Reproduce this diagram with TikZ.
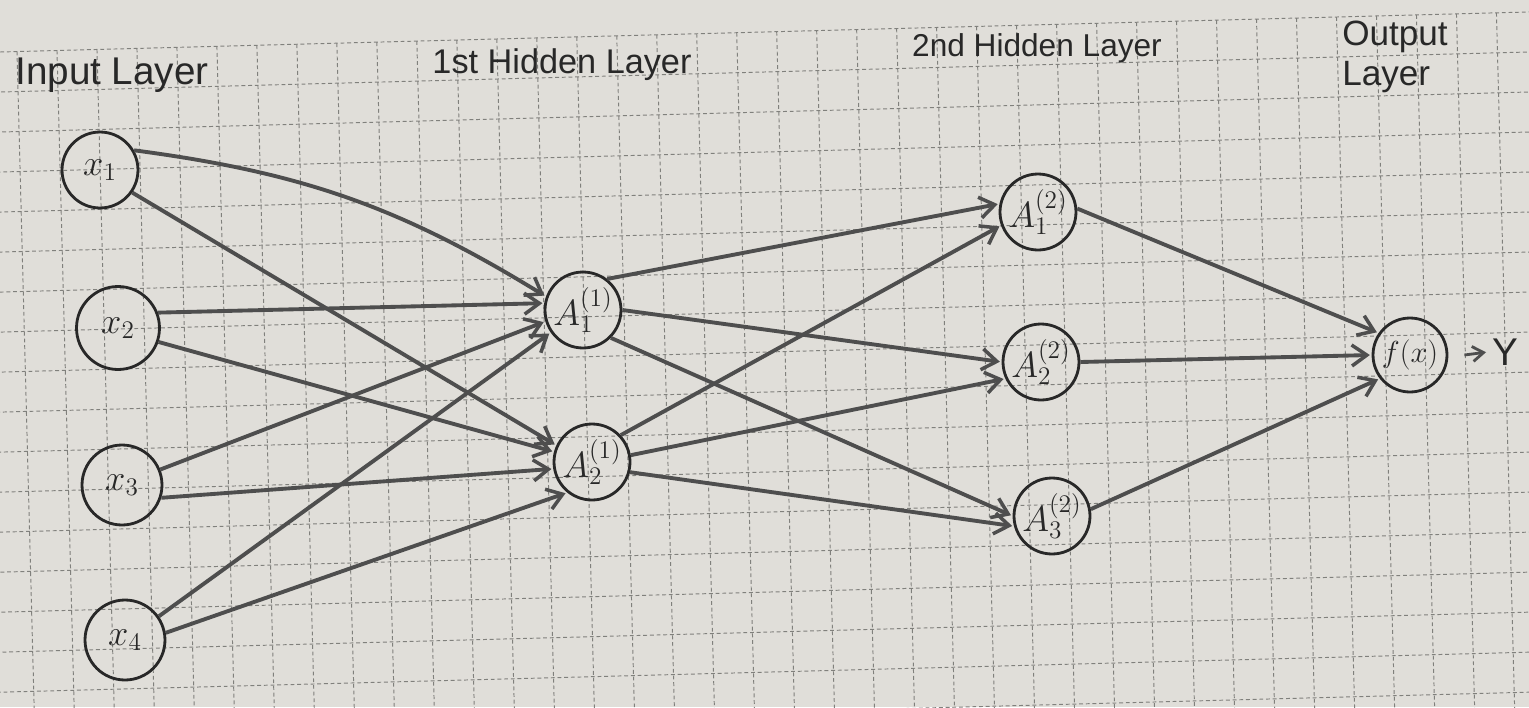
\documentclass[tikz,border=0pt]{standalone}
\usepackage{fontspec}
\setmainfont{Liberation Sans}
\usetikzlibrary{arrows.meta}
\definecolor{paper}{RGB}{224,222,217}
\definecolor{gridc}{RGB}{128,128,124}
\definecolor{ink}{RGB}{40,40,40}
\definecolor{pencil}{RGB}{78,78,78}
\tikzset{
 neuron/.style={circle,draw=ink,line width=1.6pt,minimum size=1.52cm,inner sep=0pt,font=\fontsize{21}{21}\selectfont,text=ink},
 conn/.style={draw=pencil,line width=2.2pt,-{Straight Barb[length=0.3cm,width=0.42cm,line width=2pt]},shorten >=1pt},
 lab/.style={font=\fontsize{20}{22.7}\selectfont,text=ink},
 gridline/.style={draw=gridc,line width=0.55pt,dash pattern=on 2.2pt off 1.6pt}
}
\begin{document}
\begin{tikzpicture}[x=0.02cm,y=-0.02cm]
\useasboundingbox (0,0) rectangle (1529,707);
\fill[paper] (0,0) rectangle (1529,707);
\begin{scope}
\clip (0,0) rectangle (1529,707);
\begin{scope}[rotate around={1.5:(0,52)}]
\foreach \k in {0,...,18} \draw[gridline] (-100,52+40*\k) -- (1650,52+40*\k);
\foreach \k in {-2,...,40} \draw[gridline] (17+40*\k,52) -- (17+40*\k,800);
\end{scope}
\end{scope}

% labels
\node[lab,font=\fontsize{22}{24}\selectfont] (inl) at (112,75) {Input Layer};
\node[lab,font=\fontsize{19.5}{22}\selectfont] (h1l) at (562,65) {1st Hidden Layer};
\node[lab,font=\fontsize{18}{22}\selectfont] (h2l) at (1037,48) {2nd Hidden Layer};
\node[lab,align=left] (outl) at (1395,57) {Output\\Layer};

% neurons
\node[neuron] (x1) at (100,170) {$x_1$};
\node[neuron,minimum size=1.66cm] (x2) at (118,328) {$x_2$};
\node[neuron,minimum size=1.6cm] (x3) at (122,485) {$x_3$};
\node[neuron,minimum size=1.6cm] (x4) at (125,640) {$x_4$};
\node[neuron] (A11) at (583,310) {$A_1^{(1)}$};
\node[neuron] (A21) at (592,462) {$A_2^{(1)}$};
\node[neuron] (A12) at (1038,212) {$A_1^{(2)}$};
\node[neuron] (A22) at (1041,362) {$A_2^{(2)}$};
\node[neuron] (A32) at (1052,516) {$A_3^{(2)}$};
\node[neuron,minimum size=1.48cm,font=\fontsize{19}{19}\selectfont] (f) at (1410,355) {$f(x)$};
\node[lab,font=\fontsize{22}{24}\selectfont,inner sep=0pt] (Y) at (1505,352) {Y};

% connections
\draw[conn] (x1.30) to[bend left=12] (A11.160);
\draw[conn] (x1.-35) -- (A21.155);
\draw[conn] (x2.21) -- (A11.170);
\draw[conn] (x2.-19) -- (A21.165);
\draw[conn] (x3.22) -- (A11.197);
\draw[conn] (x3.-18) -- (A21.190);
\draw[conn] (x4.35) -- (A11.215);
\draw[conn] (x4.10) -- (A21.231);
\draw[conn] (A11.52) -- (A12.168);
\draw[conn] (A11.0) -- (A22.180);
\draw[conn] (A11.-45) -- (A32.180);
\draw[conn] (A21.43) -- (A12.200);
\draw[conn] (A21.10) -- (A22.205);
\draw[conn] (A21.-15) -- (A32.195);
\draw[conn] (A12.5) -- (f.145);
\draw[conn] (A22.0) -- (f.180);
\draw[conn] (A32.10) -- (f.218);
\draw[conn,line width=1.6pt,-{Straight Barb[length=0.22cm,width=0.3cm,line width=1.6pt]}] ([xshift=0.32cm]f.east) -- ([xshift=-0.08cm]Y.west);
\end{tikzpicture}
\end{document}
